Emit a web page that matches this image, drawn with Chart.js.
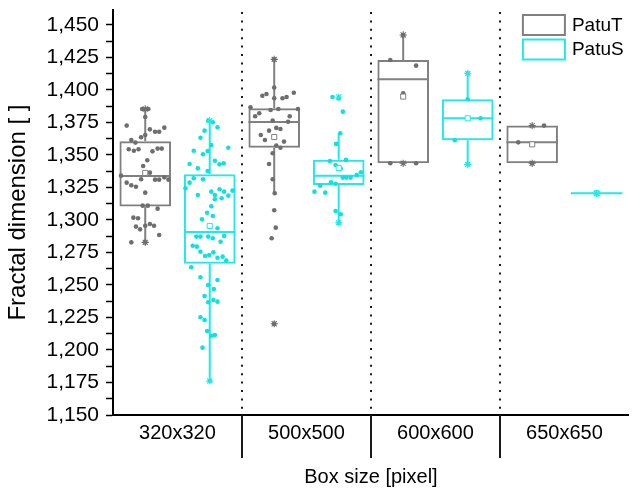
<!DOCTYPE html>
<html>
<head>
<meta charset="utf-8">
<script src="https://cdn.jsdelivr.net/npm/chart.js@4.4.0/dist/chart.umd.min.js"></script>
<style>
  html, body { margin: 0; padding: 0; background: #fff; }
  #wrap { width: 634px; height: 493px; }
</style>
</head>
<body>
<div id="wrap"><canvas id="chart" width="634" height="493"></canvas></div>
<script>
// --- Data ---
const categories = ['320x320', '500x500', '600x600', '650x650'];
const seriesNames = ['PatuT', 'PatuS'];
const yMajorTicks = [1.150, 1.175, 1.200, 1.225, 1.250, 1.275, 1.300, 1.325, 1.350, 1.375, 1.400, 1.425, 1.450];

// box statistics, one value per category
const patuTQ1     = [1.3103, 1.3556, 1.3436, 1.3436];
const patuTMedian = [1.3338, 1.3754, 1.4082, 1.3597];
const patuTQ3     = [1.3605, 1.3859, 1.4231, 1.3726];
const patuTLow    = [1.2833, 1.3208, 1.3436, 1.3436];
const patuTHigh   = [1.3854, 1.4238, 1.4423, 1.3726];
const patuTMean   = [1.3362, 1.3638, 1.3949, 1.3582];

const patuSQ1     = [1.2664, 1.3269, 1.3613, 1.3205];
const patuSMedian = [1.2908, 1.3341, 1.3782, 1.3205];
const patuSQ3     = [1.3351, 1.3464, 1.3928, 1.3205];
const patuSLow    = [1.1762, 1.2979, 1.3428, 1.3205];
const patuSHigh   = [1.3764, 1.3667, 1.4128, 1.3205];
const patuSMean   = [1.2954, 1.3400, 1.3782, 1.3205];

// raw measurements per category, and their horizontal jitter (fraction of box width)
const patuTValues = [
  [1.3854, 1.3854, 1.3792, 1.3726, 1.3697, 1.3679, 1.3679, 1.3710, 1.3615, 1.3595,
   1.3636, 1.3654, 1.3544, 1.3533, 1.3544, 1.3528, 1.3549, 1.3549, 1.3459, 1.3415,
   1.3364, 1.3341, 1.3313, 1.3310, 1.3310, 1.3328, 1.3310, 1.3287, 1.3267, 1.3256,
   1.3210, 1.3110, 1.3110, 1.3087, 1.3018, 1.3013, 1.2969, 1.2956, 1.2956, 1.2949,
   1.2928, 1.2885, 1.2828, 1.2828],
  [1.4235, 1.4018, 1.3956, 1.3969, 1.3936, 1.3936, 1.3946, 1.3979, 1.3867, 1.3846,
   1.3854, 1.3854, 1.3821, 1.3798, 1.3798, 1.3764, 1.3756, 1.3708, 1.3700, 1.3687,
   1.3654, 1.3615, 1.3603, 1.3572, 1.3556, 1.3513, 1.3431, 1.3313, 1.3205, 1.3075,
   1.2941, 1.2859, 1.2202],
  [1.4423, 1.4231, 1.4187, 1.3975, 1.3436, 1.3436],
  [1.3726, 1.3597, 1.3436]
];
const patuTJitter = [
  [-0.06, 0.06, 0, -0.36, 0.09, 0.19, 0.27, 0.37, -0.27, -0.19,
   -0.08, 0, -0.32, -0.22, -0.13, 0.14, 0.24, 0.32, 0.04, -0.04,
   0.09, -0.47, -0.08, 0.19, 0.27, 0.37, 0.45, -0.36, -0.27, -0.18,
   0, -0.05, 0.05, 0.24, -0.23, -0.14, 0.09, 0.17, 0, -0.18,
   -0.10, 0.27, -0.27, 0],
  [0, 0, -0.23, -0.15, 0, 0.16, 0.24, 0.38, -0.46, -0.07,
   0.08, 0.46, -0.29, -0.37, 0.30, -0.03, 0.27, 0.04, 0.12, -0.10,
   -0.26, -0.18, 0.19, 0.04, 0.12, -0.03, -0.10, -0.03, 0.01, 0,
   0.03, -0.05, 0],
  [0, -0.25, 0.25, 0, -0.25, 0.25],
  [0.23, -0.27, 0]
];

const patuSValues = [
  [1.3764, 1.3752, 1.3713, 1.3687, 1.3633, 1.3577, 1.3556, 1.3533, 1.3505, 1.3531,
   1.3456, 1.3428, 1.3436, 1.3431, 1.3397, 1.3377, 1.3321, 1.3287, 1.3244, 1.3313,
   1.3236, 1.3218, 1.3218, 1.3226, 1.3192, 1.3187, 1.3192, 1.3159, 1.3167, 1.3105,
   1.3056, 1.3005, 1.3031, 1.2936, 1.2872, 1.2872, 1.2872, 1.2859, 1.2877, 1.2833,
   1.2795, 1.2802, 1.2756, 1.2723, 1.2731, 1.2751, 1.2710, 1.2718, 1.2687, 1.2636,
   1.2559, 1.2538, 1.2500, 1.2469, 1.2415, 1.2367, 1.2385, 1.2372, 1.2252, 1.2231,
   1.2146, 1.2110, 1.2115, 1.2018, 1.1762],
  [1.3946, 1.3935, 1.3833, 1.3667, 1.3585, 1.3454, 1.3462, 1.3423, 1.3404, 1.3395,
   1.3367, 1.3346, 1.3326, 1.3326, 1.3326, 1.3290, 1.3279, 1.3264, 1.3218, 1.3210,
   1.3069, 1.3044, 1.2979],
  [1.4128, 1.3928, 1.3782, 1.3613, 1.3428],
  [1.3205]
];
const patuSJitter = [
  [-0.03, 0.06, 0.15, -0.10, -0.18, 0.03, 0.36, -0.31, -0.13, -0.04,
   0.10, 0.19, 0.27, -0.39, -0.23, -0.04, -0.31, -0.39, -0.47, -0.13,
   0.19, 0.03, 0.28, 0.44, 0.10, 0.36, -0.23, 0.10, 0.23, 0.03,
   -0.05, -0.15, 0.06, 0.15, -0.26, -0.18, -0.03, 0.06, 0.28, 0.21,
   -0.25, -0.33, -0.18, -0.09, -0.01, 0.07, 0.15, 0.25, 0.32, -0.36,
   -0.18, 0.15, -0.03, 0.08, -0.10, -0.03, 0.07, 0.15, -0.18, -0.10,
   -0.05, 0.03, 0.10, -0.14, 0],
  [-0.12, 0, 0.08, 0.03, -0.05, -0.17, 0.14, -0.06, 0.01, 0.04,
   0.43, 0.35, 0.08, 0.15, 0.23, -0.15, -0.06, -0.36, -0.47, -0.26,
   -0.06, 0.04, 0],
  [0, 0, 0.25, -0.25, 0],
  [0]
];

// --- Styling ---
const FONT = '"Liberation Sans", Arial, sans-serif';
const GRAY = '#808080', GRAY_PT = '#6e6e6e';
const CYAN = '#22e8e8', CYAN_PT = '#12e0e0';
const SLOT = [-0.25, 0.25];   // series centre inside its category (category units)
const BOX_W = 0.4;            // box width (category units), matches bar sizing below

Chart.defaults.font.family = FONT;

// --- Dataset builders ---
function boxData(q1, q3) {
  return q1.map((v, i) => ({ x: i, y: [v, q3[i]] }));
}
function whiskerData(s, q1, q3, lo, hi) {
  const out = [];
  q1.forEach((v, i) => {
    const x = i + SLOT[s];
    out.push({ x, y: q3[i] }, { x, y: hi[i] }, { x, y: null });
    out.push({ x, y: v }, { x, y: lo[i] }, { x, y: null });
  });
  return out;
}
function medianData(s, med) {
  const out = [];
  med.forEach((m, i) => {
    const c = i + SLOT[s];
    out.push({ x: c - BOX_W / 2, y: m }, { x: c + BOX_W / 2, y: m }, { x: c, y: null });
  });
  return out;
}
function pointData(s, values, jitter) {
  const out = [];
  values.forEach((arr, i) => {
    arr.forEach((v, k) => out.push({ x: i + SLOT[s] + jitter[i][k] * BOX_W, y: v }));
  });
  return out;
}
function meanData(s, mean) {
  return mean.map((m, i) => ({ x: i + SLOT[s], y: m }));
}
function extremeData(s, values) {
  const out = [];
  values.forEach((arr, i) => {
    out.push({ x: i + SLOT[s], y: Math.max(...arr) });
    out.push({ x: i + SLOT[s], y: Math.min(...arr) });
  });
  return out;
}

const datasets = [
  { type: 'bar', label: seriesNames[0], data: boxData(patuTQ1, patuTQ3),
    backgroundColor: 'rgba(0,0,0,0)', borderColor: GRAY, borderWidth: 2, borderSkipped: false, order: 10 },
  { type: 'bar', label: seriesNames[1], data: boxData(patuSQ1, patuSQ3),
    backgroundColor: 'rgba(0,0,0,0)', borderColor: CYAN, borderWidth: 2, borderSkipped: false, order: 11 },
  { type: 'line', data: whiskerData(0, patuTQ1, patuTQ3, patuTLow, patuTHigh),
    borderColor: GRAY, borderWidth: 2, pointRadius: 0, spanGaps: false, order: 6 },
  { type: 'line', data: whiskerData(1, patuSQ1, patuSQ3, patuSLow, patuSHigh),
    borderColor: CYAN, borderWidth: 2, pointRadius: 0, spanGaps: false, order: 6 },
  { type: 'line', data: medianData(0, patuTMedian),
    borderColor: GRAY, borderWidth: 2, pointRadius: 0, spanGaps: false, order: 5 },
  { type: 'line', data: medianData(1, patuSMedian),
    borderColor: CYAN, borderWidth: 2, pointRadius: 0, spanGaps: false, order: 5 },
  { type: 'scatter', data: pointData(0, patuTValues, patuTJitter),
    backgroundColor: GRAY_PT, borderWidth: 0, pointRadius: 2.3, order: 2 },
  { type: 'scatter', data: pointData(1, patuSValues, patuSJitter),
    backgroundColor: CYAN_PT, borderWidth: 0, pointRadius: 2.3, order: 2 },
  { type: 'scatter', data: meanData(0, patuTMean), pointStyle: 'rect',
    backgroundColor: '#fff', borderColor: GRAY, borderWidth: 1, pointRadius: 3.6, order: 1 },
  { type: 'scatter', data: meanData(1, patuSMean), pointStyle: 'rect',
    backgroundColor: '#fff', borderColor: CYAN, borderWidth: 1, pointRadius: 3.6, order: 1 },
  { type: 'scatter', data: extremeData(0, patuTValues), pointStyle: 'star',
    borderColor: GRAY_PT, borderWidth: 1.1, pointRadius: 3.6, order: 0 },
  { type: 'scatter', data: extremeData(1, patuSValues), pointStyle: 'star',
    borderColor: CYAN, borderWidth: 1.1, pointRadius: 3.6, order: 0 }
];

function isMajor(v) {
  return yMajorTicks.some(t => Math.abs(t - v) < 1e-6);
}

// dotted category dividers, separators under the axis, and the boxed legend
const decor = {
  id: 'decor',
  beforeDatasetsDraw(chart) {
    const { ctx, chartArea, scales: { x } } = chart;
    ctx.save();
    ctx.strokeStyle = '#1a1a1a';
    ctx.lineWidth = 2;
    for (let i = 0; i < categories.length - 1; i++) {
      const px = Math.round(x.getPixelForValue(i + 0.5));
      ctx.setLineDash([2, 6.4]);
      ctx.beginPath();
      ctx.moveTo(px, chartArea.top + 2);
      ctx.lineTo(px, chartArea.bottom);
      ctx.stroke();
      ctx.setLineDash([]);
      ctx.beginPath();
      ctx.moveTo(px, chartArea.bottom);
      ctx.lineTo(px, chartArea.bottom + 43);
      ctx.stroke();
    }
    ctx.restore();
  },
  afterDraw(chart) {
    const { ctx, chartArea } = chart;
    const colors = [GRAY, CYAN];
    ctx.save();
    ctx.font = '19px ' + FONT;
    ctx.textBaseline = 'middle';
    seriesNames.forEach((name, k) => {
      const bx = chartArea.right - 106, by = 15 + k * 24.5;
      ctx.strokeStyle = colors[k];
      ctx.lineWidth = 2;
      ctx.strokeRect(bx, by, 42, 20);
      ctx.fillStyle = '#000';
      ctx.fillText(name, bx + 49, by + 10.5);
    });
    ctx.restore();
  }
};

new Chart(document.getElementById('chart'), {
  type: 'bar',
  data: { datasets },
  options: {
    responsive: false,
    animation: false,
    devicePixelRatio: 1,
    layout: { padding: { top: 10, right: 0, bottom: 0, left: 0 } },
    plugins: { legend: { display: false }, tooltip: { enabled: false } },
    datasets: { bar: { categoryPercentage: 1, barPercentage: 0.8 } },
    scales: {
      x: {
        type: 'linear', min: -0.5, max: 3.5, offset: false,
        grid: { display: false, drawTicks: false, offset: false },
        border: { display: true, color: '#000', width: 2 },
        afterBuildTicks: s => { s.ticks = categories.map((c, i) => ({ value: i })); },
        afterFit: s => { s.height = 78; s.paddingLeft = 0; s.paddingRight = 0; },
        ticks: {
          color: '#000', padding: 6, maxRotation: 0, autoSkip: false,
          font: { size: 20 },
          callback: v => categories[v]
        },
        title: {
          display: true, text: 'Box size [pixel]', color: '#000',
          font: { size: 20 }, padding: { top: 0, bottom: 4 }
        }
      },
      y: {
        type: 'linear', min: 1.15, max: 1.4615,
        grid: { drawOnChartArea: false, drawTicks: true, tickLength: 7, tickColor: '#000', tickWidth: 1.5 },
        border: { display: true, color: '#000', width: 2 },
        afterBuildTicks: s => {
          const t = [];
          yMajorTicks.forEach((v, i) => {
            t.push({ value: v });
            if (i < yMajorTicks.length - 1) t.push({ value: (v + yMajorTicks[i + 1]) / 2 });
          });
          s.ticks = t;
        },
        afterFit: s => { s.width = 113; s.paddingTop = 0; s.paddingBottom = 0; },
        ticks: {
          color: '#000', padding: 7, autoSkip: false,
          font: { size: 21 },
          callback: v => isMajor(v) ? v.toFixed(3).replace('.', ',') : ''
        },
        title: {
          display: true, text: 'Fractal dimension [ ]', color: '#000',
          font: { size: 24 }, padding: { top: 4, bottom: 0 }
        }
      }
    }
  },
  plugins: [decor]
});
</script>
</body>
</html>
